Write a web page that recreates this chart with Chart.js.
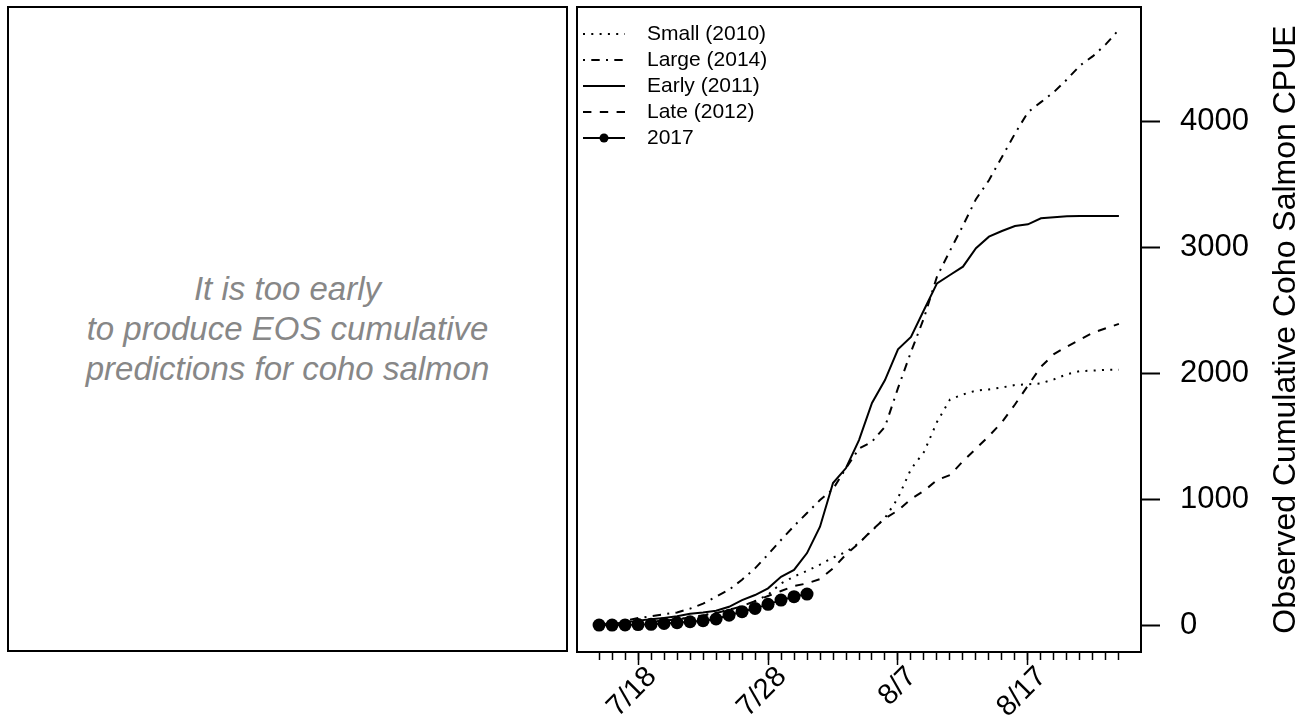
<!DOCTYPE html>
<html>
<head>
<meta charset="utf-8">
<script src="https://cdn.jsdelivr.net/npm/chart.js@4.4.1/dist/chart.umd.min.js"></script>
<style>
  body { margin: 0; background: #fff; width: 1313px; height: 725px; overflow: hidden; position: relative;
         font-family: "Liberation Sans", Arial, Helvetica, sans-serif; }
  #note { position: absolute; left: 7px; top: 6px; width: 557px; height: 642px; border: 2px solid #000;
          display: flex; align-items: center; justify-content: center; text-align: center;
          font-style: italic; font-size: 33px; line-height: 40px; color: #878787; }
  #chart { position: absolute; left: 0; top: 0; }
</style>
</head>
<body>
<div id="note">It is too early<br>to produce EOS cumulative<br>predictions for coho salmon</div>
<canvas id="chart" width="1313" height="725"></canvas>
<script>
// dagar 7/15 .. 8/24
const dates = ['7/15','7/16','7/17','7/18','7/19','7/20','7/21','7/22','7/23','7/24','7/25','7/26','7/27','7/28','7/29','7/30','7/31',
  '8/1','8/2','8/3','8/4','8/5','8/6','8/7','8/8','8/9','8/10','8/11','8/12','8/13','8/14','8/15','8/16','8/17','8/18','8/19','8/20','8/21','8/22','8/23','8/24'];
const xTickLabels = ['7/18', '7/28', '8/7', '8/17'];
const yTicks = [0, 1000, 2000, 3000, 4000];

const small2010 = [5, 8, 12, 18, 25, 35, 45, 60, 78, 98, 122, 150, 190, 240, 330, 385, 430, 480, 535, 580, 650, 750, 850, 1008, 1238, 1373, 1611, 1790, 1830, 1860, 1870, 1885, 1905, 1910, 1918, 1950, 1990, 2015, 2020, 2025, 2027];
const large2014 = [5, 15, 35, 55, 70, 85, 100, 130, 170, 225, 280, 360, 450, 560, 675, 786, 889, 992, 1079, 1246, 1400, 1455, 1574, 1880, 2167, 2437, 2765, 2970, 3170, 3380, 3530, 3715, 3900, 4070, 4150, 4230, 4330, 4440, 4515, 4610, 4725];
const early2011 = [5, 10, 20, 35, 45, 55, 70, 90, 100, 113, 145, 198, 238, 291, 383, 437, 571, 780, 1127, 1246, 1468, 1762, 1944, 2188, 2286, 2500, 2712, 2778, 2844, 2990, 3082, 3127, 3167, 3180, 3228, 3236, 3244, 3246, 3246, 3246, 3246];
const late2012 = [2, 5, 10, 18, 25, 35, 45, 60, 75, 95, 120, 150, 190, 230, 270, 310, 330, 365, 450, 560, 650, 754, 845, 910, 1000, 1065, 1150, 1190, 1300, 1400, 1500, 1610, 1750, 1900, 2050, 2150, 2210, 2265, 2320, 2355, 2390];
const obs2017 = [0, 0, 1, 4, 6, 12, 18, 26, 34, 48, 78, 106, 132, 164, 198, 225, 246];

const FONT = '"Liberation Sans", Arial, Helvetica, sans-serif';

function toPoints(values) {
  return values.map((v, i) => ({ x: i, y: v }));
}

function lineSet(label, values, dash, order) {
  return {
    label, data: toPoints(values), borderColor: '#000', borderWidth: 2, borderDash: dash,
    pointRadius: 0, tension: 0, fill: false, order
  };
}

const datasets = [
  lineSet('Small (2010)', small2010, [2, 6.3], 1),
  lineSet('Large (2014)', large2014, [2, 6.3, 8.4, 6.3], 2),
  lineSet('Early (2011)', early2011, [], 3),
  lineSet('Late (2012)', late2012, [8.4, 8.4], 4),
  {
    label: '2017', data: toPoints(obs2017), borderColor: '#000', borderWidth: 2,
    pointRadius: 6.5, pointBackgroundColor: '#000', pointBorderColor: '#000', pointBorderWidth: 0,
    tension: 0, fill: false, order: 0
  }
];

// nolla skalornas egna kantutfyllnad så att ritytan hamnar rätt
function noPad(s) {
  s.paddingTop = 0; s.paddingBottom = 0; s.paddingLeft = 0; s.paddingRight = 0;
}

// ram, legend och y-titel
const extras = {
  id: 'extras',
  afterDraw(chart) {
    const { ctx, chartArea: a } = chart;
    ctx.save();
    ctx.strokeStyle = '#000';
    ctx.fillStyle = '#000';
    ctx.lineWidth = 2;
    ctx.setLineDash([]);
    ctx.strokeRect(a.left, a.top, a.right - a.left, a.bottom - a.top);

    ctx.font = '21px ' + FONT;
    ctx.textBaseline = 'middle';
    ctx.textAlign = 'left';
    chart.data.datasets.forEach((ds, i) => {
      const y = a.top + 27 + i * 26;
      ctx.setLineDash(ds.borderDash || []);
      ctx.beginPath();
      ctx.moveTo(a.left + 6, y);
      ctx.lineTo(a.left + 48, y);
      ctx.stroke();
      ctx.setLineDash([]);
      if (ds.pointRadius > 0) {
        ctx.beginPath();
        ctx.arc(a.left + 27, y, 4.5, 0, Math.PI * 2);
        ctx.fill();
      }
      ctx.fillText(ds.label, a.left + 70, y);
    });

    const ys = chart.scales.y;
    ctx.translate(ys.right - 18, (a.top + a.bottom) / 2);
    ctx.rotate(-Math.PI / 2);
    ctx.font = '32px ' + FONT;
    ctx.textAlign = 'center';
    ctx.textBaseline = 'alphabetic';
    ctx.fillText('Observed Cumulative Coho Salmon CPUE', 0, 0);
    ctx.restore();
  }
};

new Chart(document.getElementById('chart'), {
  type: 'line',
  data: { datasets },
  options: {
    responsive: false,
    animation: false,
    layout: { padding: { left: 577, top: 7, right: 0, bottom: 0 } },
    plugins: { legend: { display: false }, tooltip: { enabled: false } },
    scales: {
      xMinor: {
        type: 'linear', position: 'bottom', min: -1.7, max: 41.7, weight: 0,
        afterBuildTicks: s => { s.ticks = dates.map((d, i) => ({ value: i })); },
        afterFit: s => { s.height = 0; noPad(s); },
        ticks: { display: false },
        grid: { drawOnChartArea: false, tickLength: 8, color: '#000', tickWidth: 1.5 },
        border: { display: false }
      },
      x: {
        type: 'linear', position: 'bottom', min: -1.7, max: 41.7, weight: 1,
        afterBuildTicks: s => { s.ticks = xTickLabels.map(l => ({ value: dates.indexOf(l) })); },
        afterFit: s => { s.height = 73; noPad(s); },
        ticks: {
          callback: v => dates[v], autoSkip: false, minRotation: 45, maxRotation: 45,
          font: { size: 29, family: FONT }, color: '#000', padding: -5, labelOffset: 14
        },
        grid: { drawOnChartArea: false, tickLength: 13, color: '#000', tickWidth: 1.5 },
        border: { display: false }
      },
      y: {
        type: 'linear', position: 'right', min: -214, max: 4905,
        afterBuildTicks: s => { s.ticks = yTicks.map(v => ({ value: v })); },
        afterFit: s => { s.width = 172; noPad(s); },
        ticks: { font: { size: 31, family: FONT }, color: '#000', padding: 20, callback: v => String(v) },
        grid: { drawOnChartArea: false, tickLength: 19, color: '#000', tickWidth: 2 },
        border: { display: false }
      }
    }
  },
  plugins: [extras]
});
</script>
</body>
</html>
